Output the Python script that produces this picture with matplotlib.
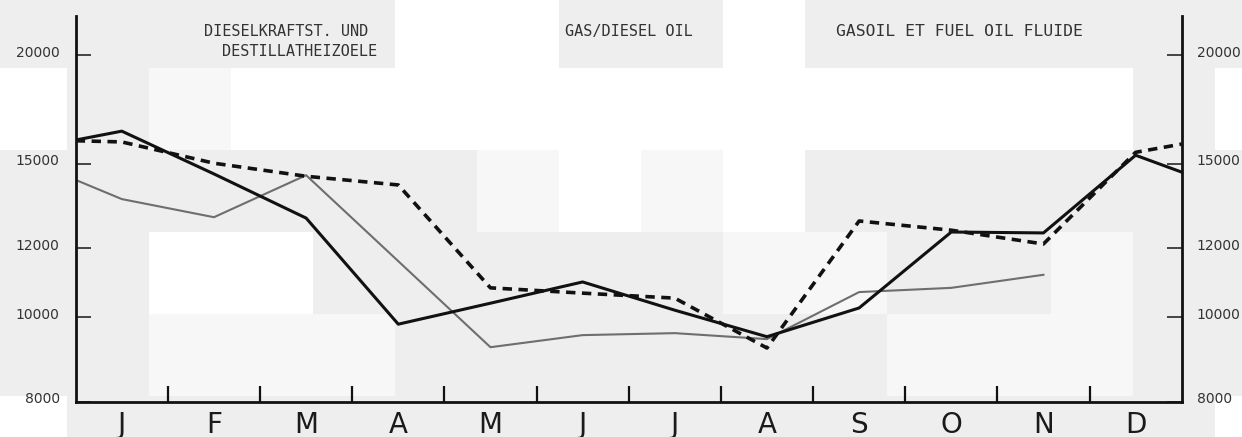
import numpy as np
import matplotlib
matplotlib.use("Agg")
import matplotlib.pyplot as plt
from matplotlib.ticker import NullLocator, NullFormatter
from matplotlib.transforms import ScaledTranslation, blended_transform_factory

# ---------------- data ----------------
months = ['J', 'F', 'M', 'A', 'M', 'J', 'J', 'A', 'S', 'O', 'N', 'D']
# values: start edge (prev. Dec carry-over), Jan..Dec, end edge
dieselkraftst = [15980, 16360, 14610, 13000, 9820, 10380, 10980, 10190, 9500,
                 10250, 12530, 12500, 15350, 14680]
gas_diesel = [15950, 15900, 15030, 14520, 14190, 10810, 10660, 10520, 9220,
              12900, 12590, 12140, 15470, 15810]
gasoil_fluide = [14380, 13670, 13030, 14560, 11600, 9240, 9540, 9590, 9440,
                 10690, 10810, 11190, np.nan, np.nan]
y_ticks = [8000, 10000, 12000, 15000, 20000]
y_tick_labels = ['8000', '10000', '12000', '15000', '20000']
titles = ['DIESELKRAFTST. UND', 'DESTILLATHEIZOELE', 'GAS/DIESEL OIL',
          'GASOIL ET FUEL OIL FLUIDE']

W, H = 1242, 437
fig = plt.figure(figsize=(W / 100, H / 100), dpi=100)
fig.patch.set_facecolor('#eeeeee')

# ---------------- scanned-paper background blocks ----------------
G, L, Wh = 238, 247, 255
xb = [0, 67, 149, 231, 313, 395, 477, 559, 641, 723, 805, 887, 969, 1051, 1133, 1215, 1242]
yb = [0, 68, 150, 232, 314, 396, 437]
grid = [
    [G, G, G, G, G, Wh, Wh, G, G, Wh, G, G, G, G, G, G],
    [Wh, G, L, Wh, Wh, Wh, Wh, Wh, Wh, Wh, Wh, Wh, Wh, Wh, G, Wh],
    [G, G, G, G, G, G, L, Wh, L, Wh, G, G, G, G, G, G],
    [G, G, Wh, Wh, G, G, G, G, G, L, L, G, G, L, G, G],
    [G, G, L, L, L, G, G, G, G, G, G, L, L, L, G, G],
    [Wh, G, G, G, G, G, G, G, G, G, G, G, G, G, G, Wh],
]
img = np.full((H, W), G, dtype=np.uint8)
for r in range(len(yb) - 1):
    for c in range(len(xb) - 1):
        img[yb[r]:yb[r + 1], xb[c]:xb[c + 1]] = grid[r][c]
bg = fig.add_axes([0, 0, 1, 1])
bg.imshow(img, cmap='gray', vmin=0, vmax=255, aspect='auto',
          interpolation='nearest', extent=(0, W, H, 0))
bg.axis('off')

# ---------------- main axes ----------------
x0, x1, ytop, ybot = 75.7, 1181.7, 15.7, 401.7
ax = fig.add_axes([x0 / W, (H - ybot) / H, (x1 - x0) / W, (ybot - ytop) / H])
ax.set_facecolor('none')

x_pos = np.concatenate([[0], np.arange(len(months)) + 0.5, [len(months)]])

ax.plot(x_pos, gasoil_fluide, color='#6e6e6e', lw=1.5, solid_joinstyle='round')
ax.plot(x_pos, dieselkraftst, color='#111111', lw=2.2, solid_joinstyle='round')
ax.plot(x_pos, gas_diesel, color='#111111', lw=2.6, linestyle=(0, (2.6, 1.8)),
        dash_capstyle='butt')

ax.set_yscale('log')
ax.set_xlim(0, len(months))
ax.set_ylim(8000, 22200)

ax.yaxis.set_minor_locator(NullLocator())
ax.yaxis.set_minor_formatter(NullFormatter())
ax.set_yticks(y_ticks)
ax.yaxis.set_major_formatter(NullFormatter())
ax.tick_params(axis='y', which='major', direction='in', length=11, width=1.4,
               color='#444444', left=True, right=True, labelleft=False,
               labelright=False)

# y tick labels on both sides, placed at the tick values
blend = blended_transform_factory(ax.transAxes, ax.transData)
lt = blend + ScaledTranslation(-16 / 100, 2.5 / 100, fig.dpi_scale_trans)
rt = blend + ScaledTranslation(15 / 100, 2.5 / 100, fig.dpi_scale_trans)
for v, s in zip(y_ticks, y_tick_labels):
    ax.text(0, v, s, transform=lt, ha='right', va='center', fontsize=10,
            color='#333333', clip_on=False)
    ax.text(1, v, s, transform=rt, ha='left', va='center', fontsize=10,
            color='#333333', clip_on=False)

ax.set_xticks(np.arange(len(months)) + 0.5, months)
ax.set_xticks(np.arange(1, len(months)), minor=True)
ax.tick_params(axis='x', which='major', length=0, pad=6.5, labelsize=20,
               labelcolor='#1a1a1a')
ax.tick_params(axis='x', which='minor', direction='in', length=11.5, width=1.6,
               color='#111111')

for s in ['left', 'right', 'bottom']:
    ax.spines[s].set_linewidth(2.0)
    ax.spines[s].set_color('#111111')
ax.spines['top'].set_visible(False)

# ---------------- titles ----------------
tkw = dict(family='DejaVu Sans Mono', color='#333333', va='center', ha='left')
fig.text(204 / W, 1 - 31.5 / H, titles[0], fontsize=11, **tkw)
fig.text(222 / W, 1 - 51.5 / H, titles[1], fontsize=11, **tkw)
fig.text(565 / W, 1 - 31.5 / H, titles[2], fontsize=11, **tkw)
fig.text(836 / W, 1 - 31.5 / H, titles[3], fontsize=11.8, **tkw)

fig.savefig('out.png', dpi=100)
